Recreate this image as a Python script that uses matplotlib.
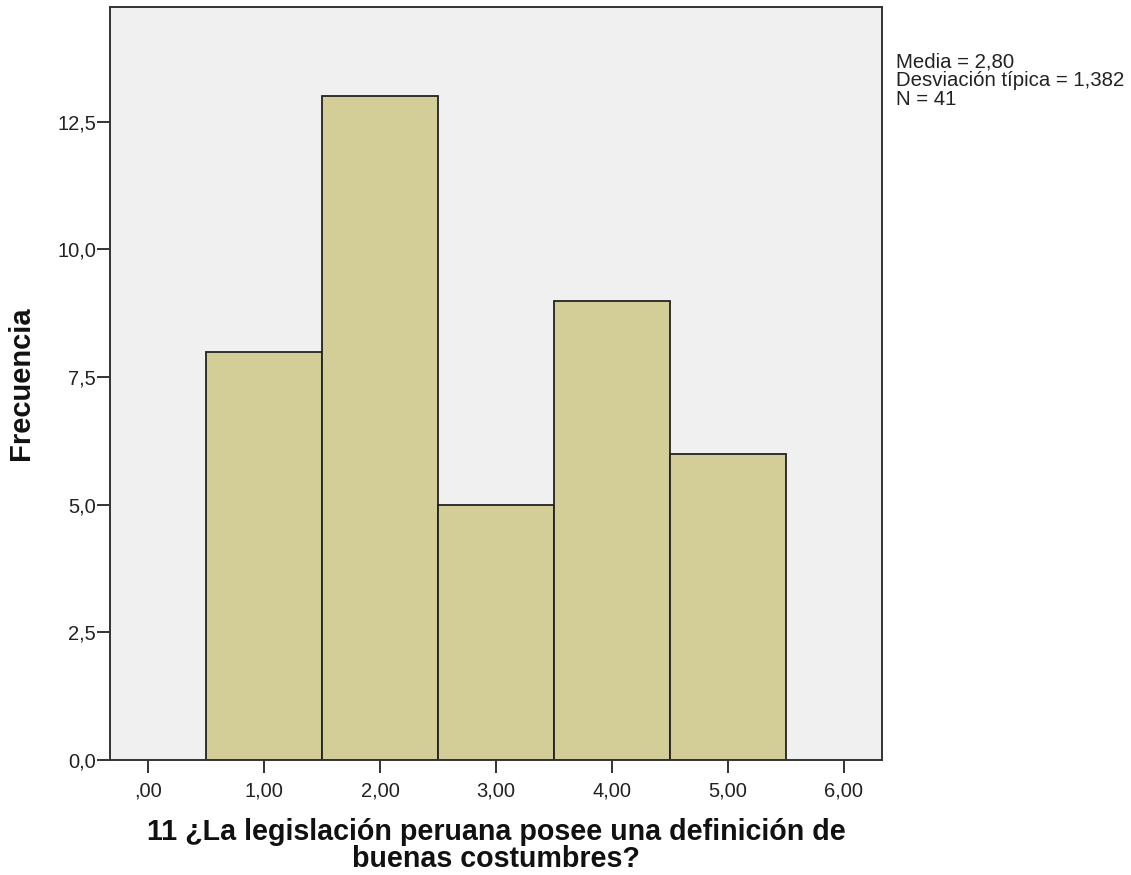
import matplotlib
matplotlib.use("Agg")
import matplotlib.pyplot as plt
from matplotlib.ticker import FixedLocator

# Data
categories = [1, 2, 3, 4, 5]
frequencies = [8, 13, 5, 9, 6]
x_ticks = [0, 1, 2, 3, 4, 5, 6]
x_tick_labels = [",00", "1,00", "2,00", "3,00", "4,00", "5,00", "6,00"]
y_ticks = [0.0, 2.5, 5.0, 7.5, 10.0, 12.5]
y_tick_labels = ["0,0", "2,5", "5,0", "7,5", "10,0", "12,5"]
stats_lines = ["Media = 2,80", "Desviación típica = 1,382", "N = 41"]
x_label = "11 ¿La legislación peruana posee una definición de\nbuenas costumbres?"
y_label = "Frecuencia"

plt.rcParams['font.family'] = ['Liberation Sans', 'DejaVu Sans']

W, H = 1131, 875
fig = plt.figure(figsize=(W / 100, H / 100), dpi=100)
fig.patch.set_facecolor("white")

left, right, top, bottom = 110, 882, 7, 760
ax_h = bottom - top
ax_w = right - left
ax = fig.add_axes([left / W, 1 - bottom / H, ax_w / W, ax_h / H])
ax.set_facecolor("#F0F0F0")

ax.bar(categories, frequencies, width=1.0, color="#D3CE97",
       edgecolor="#222222", linewidth=1.3, zorder=2)

ax.set_xlim(-0.33, 6.33)
ax.set_ylim(0, 14.75)

ax.xaxis.set_major_locator(FixedLocator(x_ticks))
ax.set_xticklabels(x_tick_labels)
ax.yaxis.set_major_locator(FixedLocator(y_ticks))
ax.set_yticklabels(y_tick_labels)

for s in ax.spines.values():
    s.set_color("#333333")
    s.set_linewidth(1.4)

ax.tick_params(axis="both", direction="out", length=9.5, width=1.4,
               color="#333333", labelsize=14.5, labelcolor="#222222")
ax.tick_params(axis="y", pad=0.5)
ax.tick_params(axis="x", pad=6)

ax.set_xlabel(x_label, fontsize=20.6, fontweight="bold", linespacing=0.95,
              color="#111111")
ax.xaxis.set_label_coords(0.5, -(818 - bottom) / ax_h)
ax.set_ylabel(y_label, fontsize=21, fontweight="bold", color="#111111")
ax.yaxis.set_label_coords(-(left - 35) / ax_w, 0.5)

fig.text(896 / W, 1 - 52 / H, "\n".join(stats_lines), fontsize=14.7, va="top",
         ha="left", color="#222222", linespacing=1.0)

fig.savefig("out.png", dpi=100, facecolor="white")
